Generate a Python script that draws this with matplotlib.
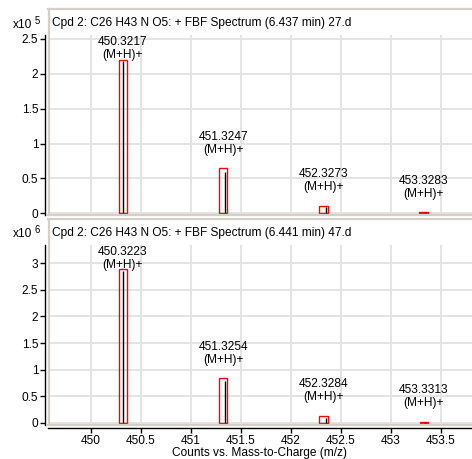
import matplotlib
matplotlib.use("Agg")
import matplotlib.pyplot as plt
from matplotlib.lines import Line2D
from matplotlib.patches import Rectangle

plt.rcParams['font.family'] = ['Liberation Sans', 'DejaVu Sans']

# ---------------- data ----------------
titles = ["Cpd 2: C26 H43 N O5: + FBF Spectrum (6.437 min) 27.d",
          "Cpd 2: C26 H43 N O5: + FBF Spectrum (6.441 min) 47.d"]
exponents = [5, 6]
# labelled (observed) m/z values, also the centres of the predicted-pattern boxes
label_mz_top = [450.3217, 451.3247, 452.3273, 453.3283]
label_mz_bot = [450.3223, 451.3254, 452.3284, 453.3313]
ion_label = "(M+H)+"
# predicted isotope box heights (counts)
box_h_top = [2.20e5, 0.645e5, 0.11e5, 0.018e5]
box_h_bot = [2.886e6, 0.836e6, 0.132e6, 0.02e6]
# observed stick positions / heights (counts)
stick_mz_top = [450.326, 451.345, 452.350, 453.340]
stick_h_top = [2.185e5, 0.597e5, 0.095e5, 0.012e5]
stick_mz_bot = [450.326, 451.346, 452.350, 453.345]
stick_h_bot = [2.855e6, 0.785e6, 0.094e6, 0.012e6]
yticks_top = [0, 0.5, 1, 1.5, 2, 2.5]
yticks_bot = [0, 0.5, 1, 1.5, 2, 2.5, 3]
xticks = [450, 450.5, 451, 451.5, 452, 452.5, 453, 453.5]
xlabel = "Counts vs. Mass-to-Charge (m/z)"

# ---------------- style ----------------
W, H = 472, 459
DPI = 100
FS = 8.6
BEIGE = "#d4d0c8"
GRID = "#e4e4e4"
BOX_W = 0.085
LABEL_OFF = 9.0

fig = plt.figure(figsize=(W / DPI, H / DPI), dpi=DPI)


def fx(px):
    return px / W


def fy(py):
    return 1 - py / H


left_px, right_px = 48, 472
panels = [
    dict(top=35, bottom=215, ylim=(-0.0244, 2.557), yticks=yticks_top,
         mz=label_mz_top, box=box_h_top, smz=stick_mz_top, sh=stick_h_top,
         frame_top=9, title_base=26.3, exp_base=28.0),
    dict(top=245, bottom=425, ylim=(-0.0433, 3.345), yticks=yticks_bot,
         mz=label_mz_bot, box=box_h_bot, smz=stick_mz_bot, sh=stick_h_bot,
         frame_top=218.5, title_base=235.8, exp_base=237.3),
]

axes = []
for i, p in enumerate(panels):
    ax = fig.add_axes([fx(left_px), fy(p['bottom']), fx(right_px - left_px),
                       (p['bottom'] - p['top']) / H])
    axes.append(ax)
    scale = 10 ** exponents[i]
    ax.set_xlim(449.573, 453.813)
    ax.set_ylim(*p['ylim'])
    ax.set_yticks(p['yticks'])
    ax.set_yticklabels([f"{v:g}" for v in p['yticks']], fontsize=FS)
    ax.set_xticks(xticks)
    ax.grid(True, color=GRID, linewidth=1.4, zorder=0)
    ax.set_axisbelow(True)
    for s in ['top', 'right']:
        ax.spines[s].set_visible(False)
    ax.spines['left'].set_position(('outward', 2.5))
    ax.spines['left'].set_linewidth(1.0)
    ax.spines['left'].set_bounds(p['ylim'][0], p['ylim'][1])
    ax.tick_params(axis='y', length=3.5, width=1.0, pad=1, labelsize=FS)
    if i == 0:
        ax.spines['bottom'].set_visible(False)
        ax.tick_params(axis='x', bottom=False, labelbottom=False)
    else:
        ax.spines['bottom'].set_position(('outward', 2))
        ax.spines['bottom'].set_linewidth(1.0)
        ax.tick_params(axis='x', length=3.5, width=1.0, pad=2, labelsize=FS)
        ax.set_xticklabels([f"{v:g}" for v in xticks])
        ax.set_xlabel(xlabel, fontsize=FS, labelpad=0)

    # predicted boxes
    for mz, h in zip(p['mz'], p['box']):
        ax.add_patch(Rectangle((mz - BOX_W / 2, 0), BOX_W, h / scale,
                               fill=False, edgecolor='#ff0000', linewidth=1.0, zorder=3))
    # observed sticks
    ax.vlines(p['smz'], 0, [v / scale for v in p['sh']], colors='black',
              linewidth=1.0, zorder=4)
    # labels
    texts = []
    for mz, h in zip(p['mz'], p['box']):
        t = ax.annotate(f"{mz:.4f}\n{ion_label}", xy=(mz, h / scale), xytext=(0, LABEL_OFF),
                        textcoords='offset points', ha='center', va='bottom',
                        fontsize=FS, linespacing=1.1, zorder=5)
        texts.append(t)
    p['texts'] = texts

    # title and exponent
    fig.text(fx(51.5), fy(p['title_base']), titles[i], fontsize=FS, va='baseline', ha='left')
    fig.text(fx(12.5), fy(p['exp_base']), "x10", fontsize=FS, va='baseline', ha='left')
    fig.text(fx(34.5), fy(p['exp_base'] - 4.5), str(exponents[i]), fontsize=FS * 0.8,
             va='baseline', ha='left')

    # beige frame lines
    fig.add_artist(Line2D([fx(left_px), 1], [fy(p['frame_top'])] * 2,
                          transform=fig.transFigure, color=BEIGE, linewidth=1.6))
    fig.add_artist(Line2D([fx(left_px + 0.5)] * 2, [fy(p['frame_top']), fy(p['bottom'])],
                          transform=fig.transFigure, color=BEIGE, linewidth=1.6))
    fig.add_artist(Line2D([fx(left_px), 1], [fy(p['bottom'] - 0.5)] * 2,
                          transform=fig.transFigure, color=BEIGE, linewidth=1.6))

# keep tall labels inside the plot area
fig.canvas.draw()
for ax, p in zip(axes, panels):
    axbb = ax.get_window_extent()
    for t in p['texts']:
        bb = t.get_window_extent()
        if bb.y1 > axbb.y1 - 1:
            shift = bb.y1 - (axbb.y1 - 1)
            t.xyann = (0, LABEL_OFF - shift * 72 / DPI)

fig.savefig("out.png", dpi=DPI)
